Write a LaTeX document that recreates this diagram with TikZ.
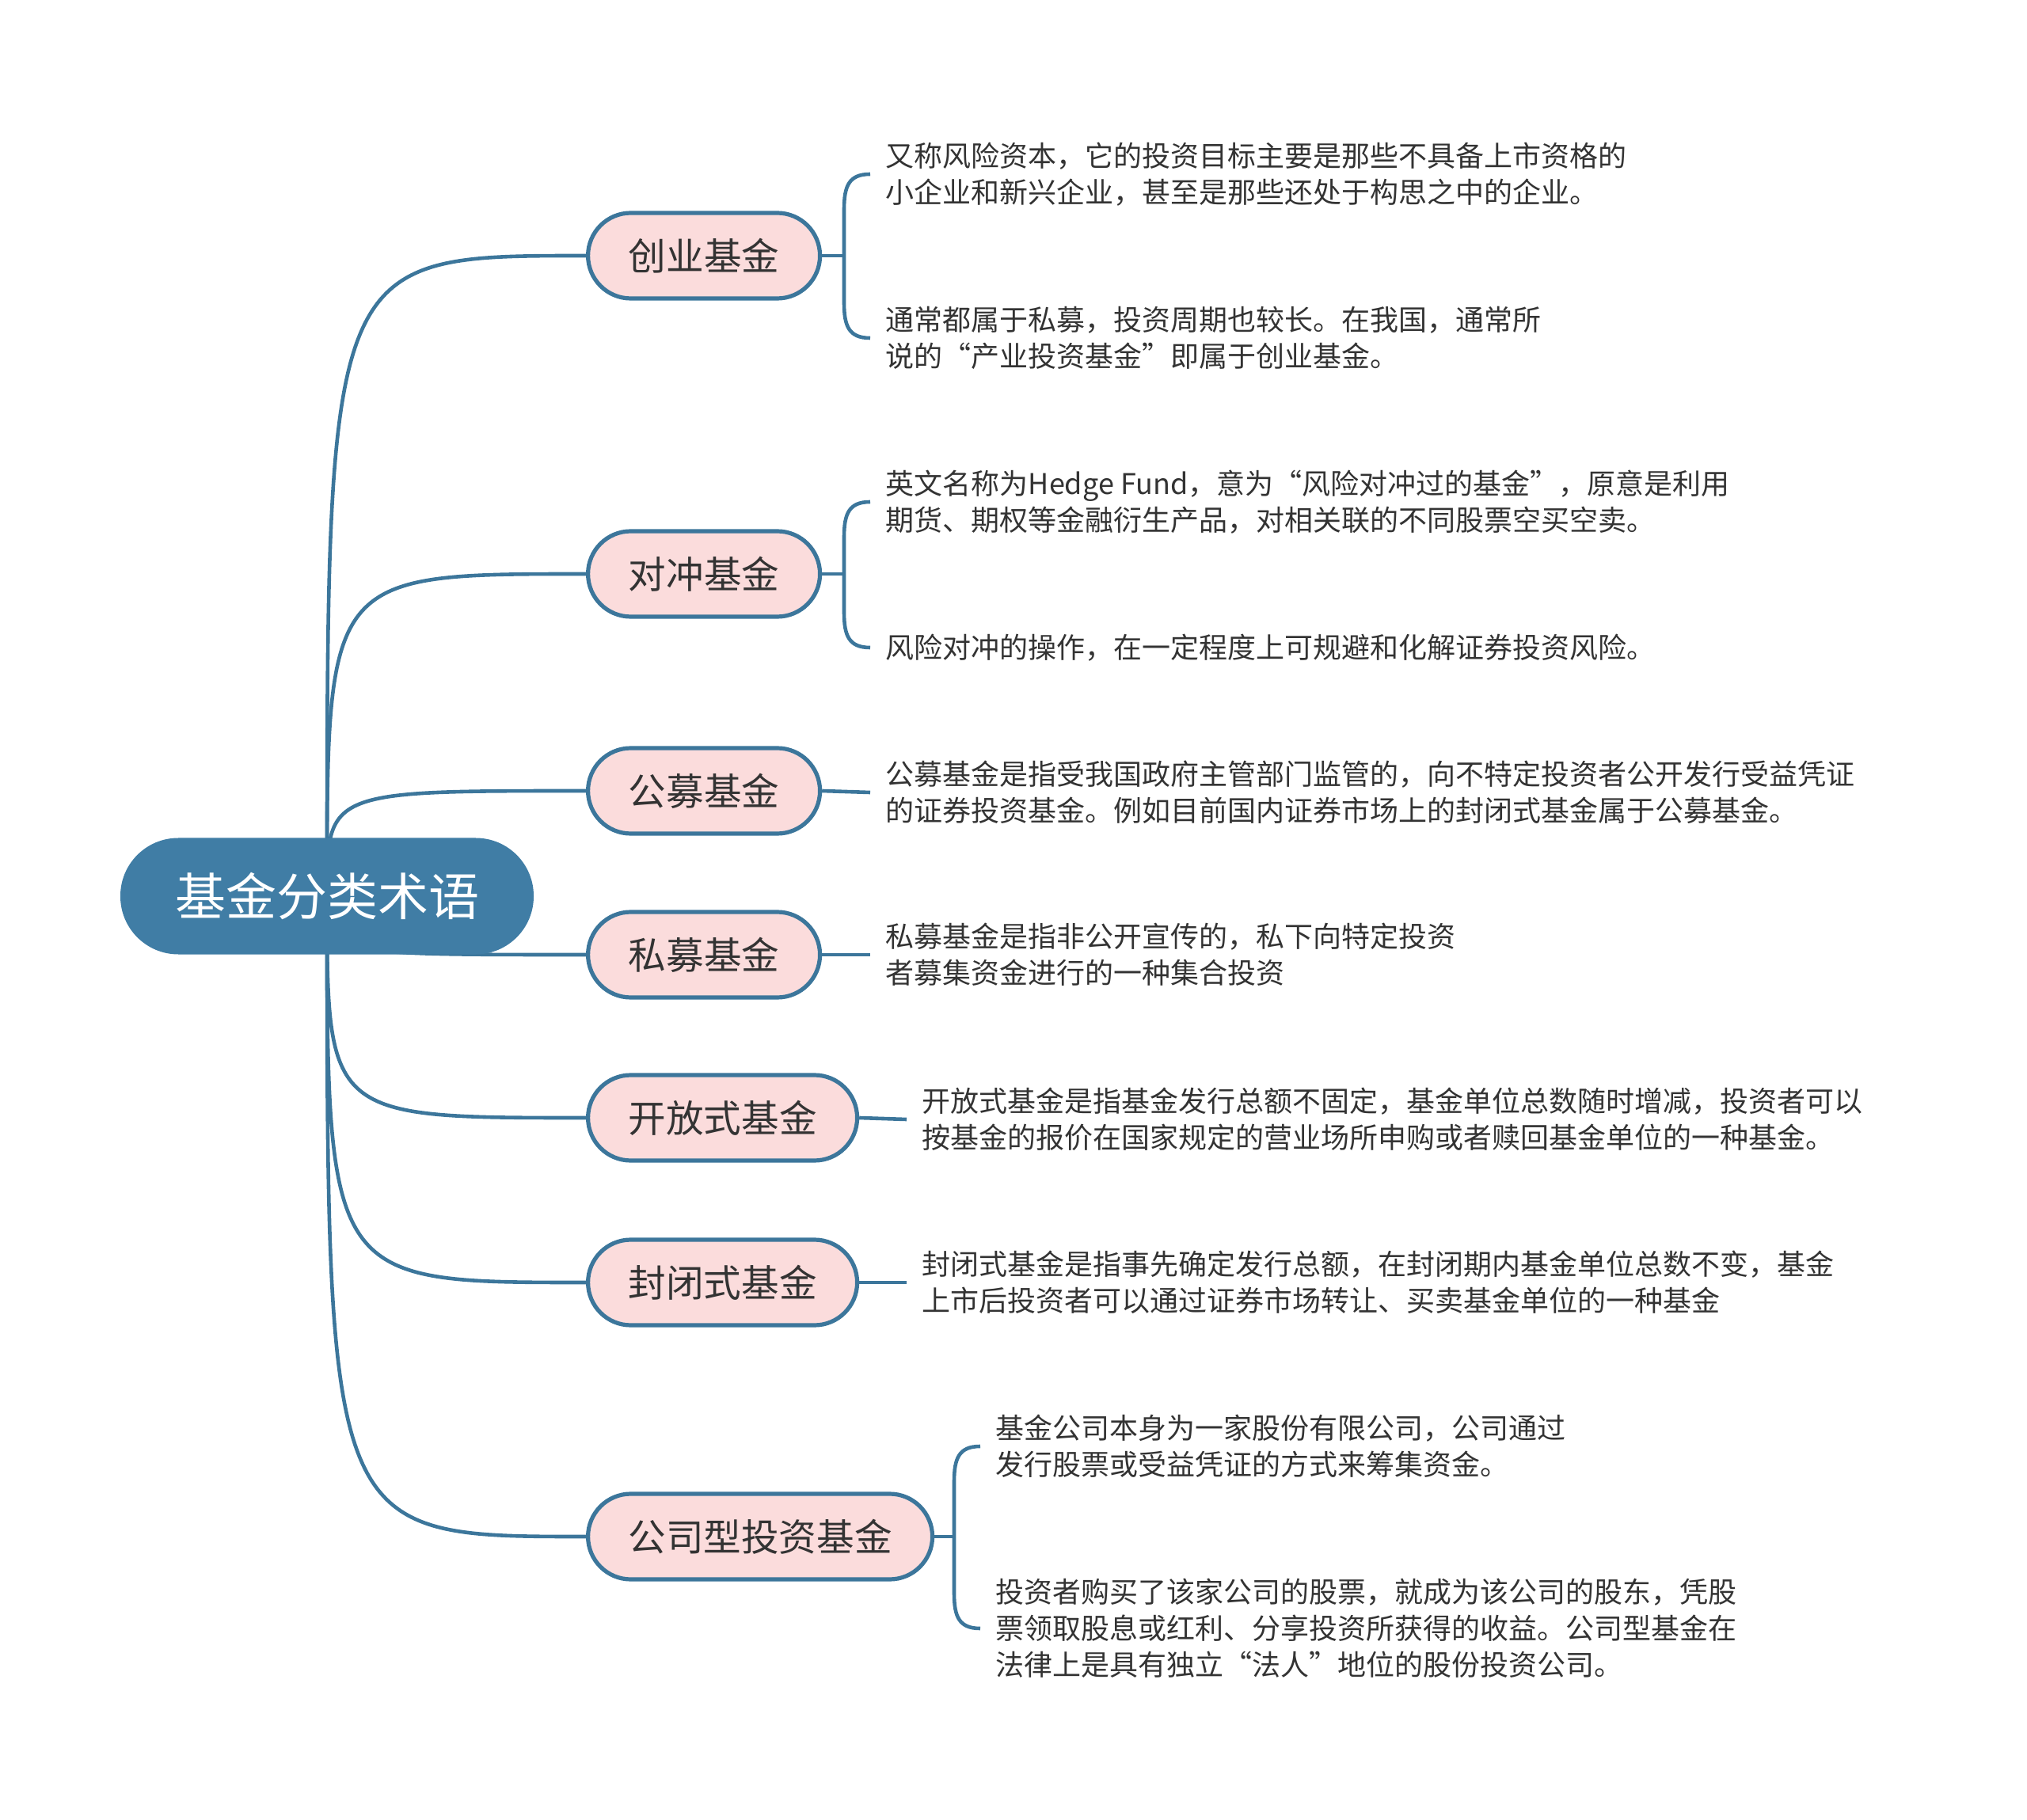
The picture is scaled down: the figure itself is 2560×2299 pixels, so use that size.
\documentclass[tikz,border=0pt]{standalone}
\usepackage{fontspec}
\setmainfont{Noto Sans CJK SC}
\usetikzlibrary{backgrounds,calc}
\definecolor{rootblue}{RGB}{64,125,165}
\definecolor{edgeblue}{RGB}{60,118,155}
\definecolor{pinkfill}{RGB}{251,220,220}
\definecolor{txt}{RGB}{51,51,51}
\begin{document}
\begin{tikzpicture}[x=0.25pt,y=-0.25pt,
  rootnode/.style={fill=rootblue, draw=none, rounded corners=18.3pt,
    minimum width=130.5pt, minimum height=36.75pt, inner sep=0pt,
    font=\fontsize{16pt}{19pt}\selectfont, text=white},
  branch/.style={fill=pinkfill, draw=edgeblue, line width=1.3pt,
    rounded corners=13.5pt, minimum height=27pt, minimum width=#1,
    inner sep=0pt, anchor=west, font=\fontsize{11.9pt}{14pt}\selectfont, text=txt},
  leaf/.style={anchor=west, align=left, inner sep=0pt,
    font=\fontsize{9pt}{11.5pt}\selectfont, text=txt},
  edge/.style={draw=edgeblue, line width=1.15pt}
]
\useasboundingbox (0,0) rectangle (2560,2299);

\node[rootnode] (root) at (413,1132) {基金分类术语};

\node[branch=73.25pt] (b1) at (740,323) {创业基金};
\node[branch=73.25pt] (b2) at (740,725) {对冲基金};
\node[branch=73.25pt] (b3) at (740,999) {公募基金};
\node[branch=73.25pt] (b4) at (740,1206) {私募基金};
\node[branch=85pt] (b5) at (740,1412) {开放式基金};
\node[branch=85pt] (b6) at (740,1620) {封闭式基金};
\node[branch=108.75pt] (b7) at (740,1941) {公司型投资基金};

\node[leaf] (l11) at (1118,220) {又称风险资本，它的投资目标主要是那些不具备上市资格的\\小企业和新兴企业，甚至是那些还处于构思之中的企业。};
\node[leaf] (l12) at (1118,427) {通常都属于私募，投资周期也较长。在我国，通常所\\说的“产业投资基金”即属于创业基金。};
\node[leaf] (l21) at (1118,634) {英文名称为Hedge Fund，意为“风险对冲过的基金”，原意是利用\\期货、期权等金融衍生产品，对相关联的不同股票空买空卖。};
\node[leaf] (l22) at (1118,818) {风险对冲的操作，在一定程度上可规避和化解证券投资风险。};
\node[leaf] (l3) at (1118,1001) {公募基金是指受我国政府主管部门监管的，向不特定投资者公开发行受益凭证\\的证券投资基金。例如目前国内证券市场上的封闭式基金属于公募基金。};
\node[leaf] (l4) at (1118,1206) {私募基金是指非公开宣传的，私下向特定投资\\者募集资金进行的一种集合投资};
\node[leaf] (l5) at (1164,1414) {开放式基金是指基金发行总额不固定，基金单位总数随时增减，投资者可以\\按基金的报价在国家规定的营业场所申购或者赎回基金单位的一种基金。};
\node[leaf] (l6) at (1164,1620) {封闭式基金是指事先确定发行总额，在封闭期内基金单位总数不变，基金\\上市后投资者可以通过证券市场转让、买卖基金单位的一种基金};
\node[leaf] (l71) at (1257,1827) {基金公司本身为一家股份有限公司，公司通过\\发行股票或受益凭证的方式来筹集资金。};
\node[leaf] (l72) at (1257,2057) {投资者购买了该家公司的股票，就成为该公司的股东，凭股\\票领取股息或红利、分享投资所获得的收益。公司型基金在\\法律上是具有独立“法人”地位的股份投资公司。};

\begin{scope}[on background layer]
\foreach \b in {b1,b2,b3,b4,b5,b6,b7}
  \draw[edge] (root.center) .. controls (root.center |- \b.west) .. (\b.west);
\end{scope}

\newcommand{\mybracket}[3]{%
  \draw[edge] (#1.east) -- ($(#1.east -| #2.west)+(-52,0)$);
  \draw[edge] ($(#2.west)+(-19,0)$) .. controls +(-27,0) and +(0,-30) .. ($(#2.west)+(-52,45)$)
     -- ($(#3.west)+(-52,-45)$) .. controls +(0,30) and +(-27,0) .. ($(#3.west)+(-19,0)$);
}
\mybracket{b1}{l11}{l12}
\mybracket{b2}{l21}{l22}
\mybracket{b7}{l71}{l72}

\draw[edge] (b3.east) -- ($(l3.west)+(-19,0)$);
\draw[edge] (b4.east) -- ($(l4.west)+(-19,0)$);
\draw[edge] (b5.east) -- ($(l5.west)+(-19,0)$);
\draw[edge] (b6.east) -- ($(l6.west)+(-19,0)$);
\end{tikzpicture}
\end{document}
